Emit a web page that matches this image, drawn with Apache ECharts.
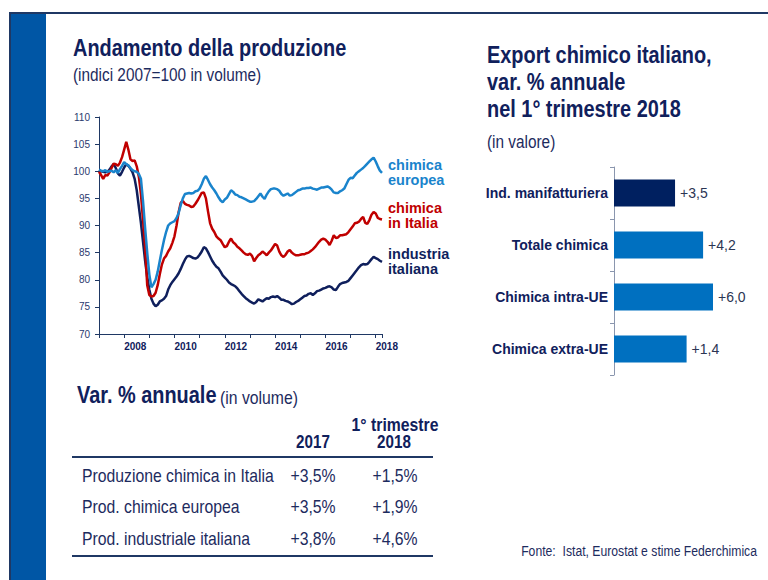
<!DOCTYPE html>
<html>
<head>
<meta charset="utf-8">
<title>Andamento della produzione</title>
<script src="https://cdn.jsdelivr.net/npm/echarts@6/dist/echarts.min.js"></script>
<style>
  html, body { margin: 0; padding: 0; background: #fff; }
  #chart { width: 768px; height: 580px; }
</style>
</head>
<body>
<div id="chart"></div>
<script>
// indici 2007=100, dati mensili da gen 2007 ad apr 2018
var startYear = 2007;
var lineNames = ['chimica\neuropea', 'chimica\nin Italia', 'industria\nitaliana'];

var chimicaEuropea = [
    100.3, 100.1, 100.0, 100.2, 99.9, 100.0, 100.1, 99.8, 100.2, 99.7, 100.4, 101.0,
    101.7, 101.3, 101.1, 100.6, 100.2, 100.0, 99.9, 99.5, 98.6, 94.5, 89.5, 85.0,
    81.0, 78.6, 79.2, 80.0, 81.5, 83.5, 85.5, 87.3, 88.8, 90.0, 90.4, 90.6,
    90.8, 91.4, 92.3, 93.8, 95.0, 95.8, 95.9, 96.0, 95.9, 96.0, 96.3, 96.4,
    96.8, 97.6, 98.6, 99.1, 98.4, 97.6, 97.0, 96.5, 95.9, 95.2, 94.6, 94.3,
    94.8, 95.1, 95.8, 96.5, 96.2, 95.7, 95.6, 95.3, 95.2, 95.0, 94.8, 94.6,
    94.4, 94.4, 94.5, 94.9, 95.4, 95.9, 95.3, 94.9, 95.7, 96.3, 96.7, 96.8,
    96.8, 96.7, 96.4, 95.8, 95.5, 95.7, 95.9, 95.5, 95.6, 95.9, 96.2, 96.5,
    96.6, 96.8, 96.8, 96.9, 96.9, 97.0, 96.8, 96.7, 96.6, 96.8, 97.0, 97.0,
    97.1, 97.2, 97.0, 96.6, 96.1, 96.0, 96.0, 96.3, 96.5, 96.8, 97.6, 98.4,
    98.8, 98.7, 99.2, 99.7, 100.0, 100.3, 100.6, 101.0, 101.4, 101.8, 102.2, 102.5,
    101.8, 100.9, 100.1, 99.7
];

var chimicaItalia = [
    99.9, 99.3, 98.6, 99.3, 99.2, 99.8, 100.6, 101.4, 101.3, 101.0, 101.6, 102.6,
    104.0, 105.4, 104.0, 102.2, 101.9, 102.0, 100.9, 99.0, 95.8, 91.0, 86.0, 79.0,
    77.2, 76.9, 77.0, 77.6, 79.0, 81.0, 82.8, 83.9, 84.4, 85.2, 85.8, 86.8,
    88.0, 90.0, 92.5, 94.2, 94.5, 94.0, 93.8, 93.7, 93.4, 93.5, 94.0, 94.6,
    95.3, 96.0, 96.1, 95.0, 92.6, 90.4, 89.4, 88.8, 88.0, 87.6, 87.3, 86.6,
    86.0, 86.2, 87.0, 87.6, 86.9, 86.6, 86.1, 85.8, 85.4, 85.0, 84.7, 84.6,
    84.8, 84.4, 83.4, 84.0, 84.5, 84.8, 85.2, 84.9, 84.5, 85.0, 85.4, 86.0,
    86.6, 86.3, 85.2, 84.5, 84.2, 84.6, 85.2, 85.5, 85.0, 84.7, 84.5, 84.5,
    84.6, 84.7, 84.7, 84.9, 85.0, 85.3, 85.6, 86.0, 86.5, 87.0, 87.4, 87.6,
    87.4, 87.0, 86.4, 87.2, 88.2, 87.7, 87.8, 88.2, 88.2, 88.3, 88.4, 88.8,
    89.3, 89.8, 90.4, 90.5, 90.7, 91.2, 91.6, 90.5, 90.3, 91.0, 92.0, 92.5,
    92.2, 91.4, 91.2, 91.1
];

var industriaItaliana = [
    100.2, 100.0, 99.9, 99.8, 99.9, 100.3, 100.9, 101.3, 100.6, 99.6, 99.2, 99.9,
    100.7, 101.3, 101.0, 100.5, 99.8, 98.6, 96.5, 93.5, 90.5, 87.0, 83.5, 80.5,
    78.2, 76.5, 75.6, 75.1, 75.4, 76.0, 76.2, 76.5, 77.0, 78.2, 79.0, 79.6,
    80.1, 80.6, 81.2, 82.0, 82.9, 83.7, 84.3, 84.4, 84.2, 84.0, 83.9, 84.1,
    84.6, 85.2, 86.0, 85.8, 85.1, 84.3, 83.5, 82.9, 82.4, 82.1, 81.5, 80.8,
    80.4, 80.0, 79.5, 79.2, 79.0, 78.8, 78.4, 77.9, 77.4, 77.0, 76.6, 76.3,
    76.0, 75.8, 75.6, 75.9, 76.4, 76.2, 76.0, 76.3, 76.6, 76.5, 76.8, 76.9,
    76.8, 77.0, 76.7, 76.3, 76.3, 76.1, 76.0, 75.8, 75.5, 75.6, 75.9, 76.1,
    76.4, 76.7, 77.0, 77.1, 77.4, 77.5, 77.2, 77.5, 77.9, 78.0, 78.2, 78.4,
    78.5, 78.7, 78.8, 78.6, 78.2, 78.1, 78.7, 79.2, 79.4, 79.5, 79.6, 79.8,
    80.3, 80.8, 81.3, 81.8, 82.3, 82.7, 82.9, 82.8, 82.9, 83.3, 83.8, 84.2,
    84.0, 83.8, 83.5, 83.3
];

// export chimico, var. % annuale 1° trim 2018
var exportCategories = ['Ind. manifatturiera', 'Totale chimica', 'Chimica intra-UE', 'Chimica extra-UE'];
var exportValues = [3.5, 4.2, 6.0, 1.4];
// lunghezza delle barre come disegnate nel grafico originale
var exportBars = [3.7, 5.4, 6.0, 4.4];

// tabella var. % annuale (in volume)
var tableRows = ['Produzione chimica in Italia', 'Prod. chimica europea', 'Prod. industriale italiana'];
var var2017 = [3.5, 3.5, 3.8];
var varQ1 = [1.5, 1.9, 4.6];

var FONT = "'Liberation Sans', Arial, sans-serif";
var NAVY = '#10205c';
var TEXT = '#1d2b5e';
var LINE_COLORS = ['#1a84cc', '#c00000', '#0f1f5c'];
var NARROW_SCALE = 0.83; // il testo originale e' in Arial Narrow

function toPairs(arr) {
    var out = [];
    for (var i = 0; i < arr.length; i++) {
        out.push([startYear + i / 12, arr[i]]);
    }
    return out;
}

function fmt(v, pct) {
    return '+' + v.toFixed(1).replace('.', ',') + (pct ? '%' : '');
}

// testo "stretto": font normale schiacciato in orizzontale
function txt(x, y, text, size, weight, color, align) {
    return {
        type: 'text',
        x: x,
        y: y,
        scaleX: NARROW_SCALE,
        silent: true,
        style: {
            text: text,
            fontSize: size,
            fontWeight: weight || 'normal',
            fontFamily: FONT,
            fill: color || TEXT,
            align: align || 'left',
            verticalAlign: 'middle',
            textAlign: align || 'left',
            textVerticalAlign: 'middle'
        }
    };
}

(function () {
    var chart = echarts.init(document.getElementById('chart'), null, {renderer: 'svg'});

    var lastIdx = chimicaEuropea.length - 1;
    var seriesData = [chimicaEuropea, chimicaItalia, industriaItaliana];
    var labelOffsets = [[0, 0], [0, -4], [0, 0]];

    var lineSeries = [];
    for (var s = 0; s < seriesData.length; s++) {
        lineSeries.push({
            type: 'line',
            xAxisIndex: 0,
            yAxisIndex: 0,
            data: toPairs(seriesData[s]),
            symbol: 'none',
            z: 5 - s,
            lineStyle: {color: LINE_COLORS[s], width: 2.5},
            endLabel: {
                show: true,
                formatter: lineNames[s],
                color: LINE_COLORS[s],
                fontFamily: FONT,
                fontWeight: 'bold',
                fontSize: 14.5,
                lineHeight: 15,
                distance: 6,
                offset: labelOffsets[s]
            }
        });
    }

    var graphics = [
        {type: 'rect', shape: {x: 9, y: 13, width: 37, height: 567}, style: {fill: '#0056a5'}},
        {type: 'rect', shape: {x: 9, y: 13, width: 2, height: 567}, style: {fill: '#1f3864'}},
        {type: 'rect', shape: {x: 9, y: 12, width: 759, height: 2}, style: {fill: '#1f3864'}},

        txt(73, 48, 'Andamento della produzione', 24, 'bold', NAVY),
        txt(73, 75, '(indici 2007=100 in volume)', 18.5, 'normal', TEXT),

        txt(487, 55, 'Export chimico italiano,', 24, 'bold', NAVY),
        txt(487, 82, 'var. % annuale', 24, 'bold', NAVY),
        txt(487, 109, 'nel 1° trimestre 2018', 24, 'bold', NAVY),
        txt(487, 142, '(in valore)', 18.5, 'normal', TEXT),

        txt(77, 395, 'Var. % annuale', 24, 'bold', NAVY),
        txt(220, 397, '(in volume)', 19, 'normal', TEXT),
        txt(313, 442, '2017', 18.3, 'bold', NAVY, 'center'),
        txt(395, 424, '1° trimestre', 19, 'bold', NAVY, 'center'),
        txt(394, 442, '2018', 18.3, 'bold', NAVY, 'center'),
        {type: 'rect', shape: {x: 72, y: 456, width: 361, height: 2}, style: {fill: '#1f3864'}},
        {type: 'rect', shape: {x: 72, y: 555, width: 361, height: 2}, style: {fill: '#1f3864'}},

        txt(757, 551, 'Fonte:  Istat, Eurostat e stime Federchimica', 14.7, 'normal', TEXT, 'right')
    ];

    var rowY = [475, 506.5, 538];
    for (var r = 0; r < tableRows.length; r++) {
        graphics.push(txt(82, rowY[r], tableRows[r], 19, 'normal', TEXT));
        graphics.push(txt(313, rowY[r], fmt(var2017[r], true), 19, 'normal', TEXT, 'center'));
        graphics.push(txt(395, rowY[r], fmt(varQ1[r], true), 19, 'normal', TEXT, 'center'));
    }

    var options = {
        animation: false,
        backgroundColor: '#ffffff',
        grid: [
            {left: 99, top: 117, width: 283, height: 217},
            {left: 614, top: 167, width: 115.5, height: 208}
        ],
        xAxis: [
            {
                type: 'value',
                gridIndex: 0,
                min: startYear,
                max: startYear + lastIdx / 12,
                interval: 1,
                axisLine: {show: true, lineStyle: {color: '#1f3864', width: 1}},
                axisTick: {show: true, length: 4, lineStyle: {color: '#1f3864'}},
                axisLabel: {
                    formatter: function (v) {
                        return v % 2 === 0 ? String(v) : '';
                    },
                    align: 'left',
                    margin: 7,
                    color: NAVY,
                    fontFamily: FONT,
                    fontWeight: 'bold',
                    fontSize: 10
                },
                splitLine: {show: false}
            },
            {
                type: 'value',
                gridIndex: 1,
                min: 0,
                max: 7,
                show: false
            }
        ],
        yAxis: [
            {
                type: 'value',
                gridIndex: 0,
                min: 70,
                max: 110,
                interval: 5,
                axisLine: {show: true, lineStyle: {color: '#1f3864', width: 1}},
                axisTick: {show: true, length: 4, lineStyle: {color: '#1f3864'}},
                axisLabel: {margin: 9, color: '#2a3a6e', fontFamily: FONT, fontSize: 10},
                splitLine: {show: false}
            },
            {
                type: 'category',
                gridIndex: 1,
                inverse: true,
                data: exportCategories,
                axisLine: {show: true, lineStyle: {color: '#8a96ae', width: 1}},
                axisTick: {show: true, length: 4, lineStyle: {color: '#8a96ae'}},
                axisLabel: {
                    margin: 6,
                    color: NAVY,
                    fontFamily: FONT,
                    fontWeight: 'bold',
                    fontSize: 14
                }
            }
        ],
        series: lineSeries.concat([{
            type: 'bar',
            xAxisIndex: 1,
            yAxisIndex: 1,
            barWidth: 27,
            data: exportBars.map(function (v, i) {
                return {value: v, itemStyle: {color: i === 0 ? '#002060' : '#0070c0'}};
            }),
            label: {
                show: true,
                position: 'right',
                distance: 5,
                formatter: function (p) {
                    return fmt(exportValues[p.dataIndex], false);
                },
                color: '#2b3553',
                fontFamily: FONT,
                fontSize: 14
            }
        }]),
        graphic: graphics
    };

    chart.setOption(options);
})();
</script>
</body>
</html>
